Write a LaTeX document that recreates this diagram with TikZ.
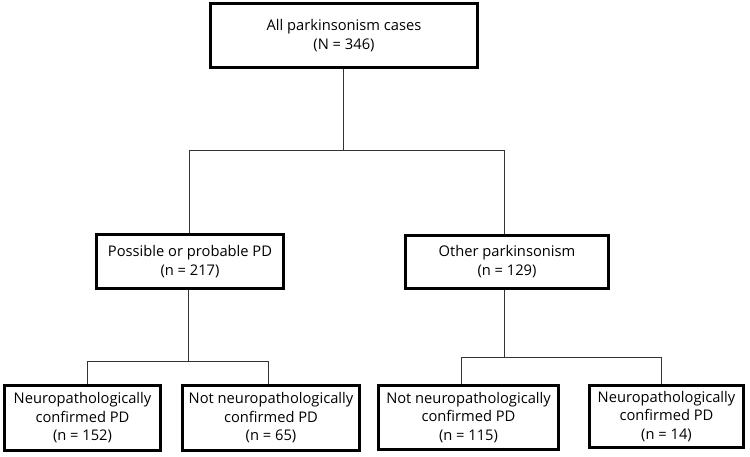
\documentclass[tikz,border=0pt]{standalone}
\usepackage{fontspec}
\setmainfont{Open Sans}
\begin{document}
\begin{tikzpicture}[x=1pt,y=-1pt,
  box/.style={draw=black, line width=3pt, fill=white, inner sep=0pt, align=center,
    font=\fontsize{14.7}{18.5}\selectfont},
  conn/.style={draw=black!80, line width=1pt}]
\useasboundingbox (0,0) rectangle (750,456);
\node[box, minimum width=267, minimum height=64] (top) at (344,35.5) {All parkinsonism cases\\(N = 346)};
\node[box, minimum width=187, minimum height=54] (l2a) at (190,261.5) {Possible or probable PD\\(n = 217)};
\node[box, minimum width=203, minimum height=53] (l2b) at (507,261.5) {Other parkinsonism\\(n = 129)};
\node[box, minimum width=156, minimum height=65] (l3a) at (82.5,418) {Neuropathologically\\confirmed PD\\(n = 152)};
\node[box, minimum width=177, minimum height=65] (l3b) at (271,418) {Not neuropathologically\\confirmed PD\\(n = 65)};
\node[box, minimum width=180, minimum height=64] (l3c) at (468.5,417.5) {Not neuropathologically\\confirmed PD\\(n = 115)};
\node[box, minimum width=154, minimum height=62] (l3d) at (666.5,416.5) {Neuropathologically\\confirmed PD\\(n = 14)};
\coordinate (y1) at (0,150);
\coordinate (y2) at (0,361);
\coordinate (y3) at (0,357);
\draw[conn] ([xshift=-1pt]top.south) -- ([xshift=-1pt]top.south |- y1) -| ([xshift=-1pt]l2a.north);
\draw[conn] ([xshift=-1pt]top.south |- y1) -| ([xshift=-3pt]l2b.north);
\draw[conn] ([xshift=-1.5pt]l2a.south) -- ([xshift=-1.5pt]l2a.south |- y2) -| ([xshift=4.5pt]l3a.north);
\draw[conn] ([xshift=-1.5pt]l2a.south |- y2) -| ([xshift=-3pt]l3b.north);
\draw[conn] ([xshift=-3pt]l2b.south) -- ([xshift=-3pt]l2b.south |- y3) -| ([xshift=-7.5pt]l3c.north);
\draw[conn] ([xshift=-3pt]l2b.south |- y3) -| ([xshift=-5.5pt]l3d.north);
\end{tikzpicture}
\end{document}
